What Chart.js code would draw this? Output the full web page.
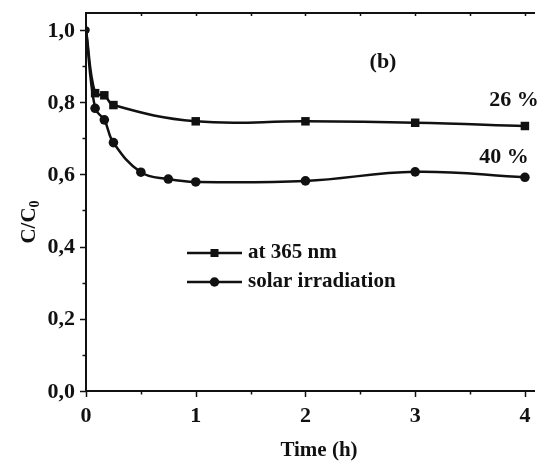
<!DOCTYPE html>
<html>
<head>
<meta charset="utf-8">
<script src="https://cdn.jsdelivr.net/npm/chart.js@4"></script>
<style>
  html, body { margin: 0; padding: 0; background: #fff; }
  #c { display: block; }
</style>
</head>
<body>
<canvas id="c" width="541" height="463"></canvas>
<script>
// ---- data ----
const timeSquares = [0, 0.083, 0.167, 0.25, 1, 2, 3, 4];
const nm365 = [1.0, 0.825, 0.819, 0.792, 0.747, 0.747, 0.743, 0.734];
const timeCircles = [0, 0.083, 0.167, 0.25, 0.5, 0.75, 1, 2, 3, 4];
const solar = [1.0, 0.783, 0.751, 0.688, 0.606, 0.587, 0.579, 0.582, 0.607, 0.592];

const xTickValues = [0, 1, 2, 3, 4];
const xTickLabels = ['0', '1', '2', '3', '4'];
const yTickValues = [0, 0.2, 0.4, 0.6, 0.8, 1.0];
const yTickLabels = ['0,0', '0,2', '0,4', '0,6', '0,8', '1,0'];
const seriesNames = ['at 365 nm', 'solar irradiation'];
const xTitle = 'Time (h)';

const FONT = '"Liberation Serif", "Times New Roman", serif';
const INK = '#111';

const axesPlugin = {
  id: 'axesPlugin',
  afterDraw(chart) {
    const ctx = chart.ctx;
    const xs = chart.scales.x, ys = chart.scales.y;
    const a = chart.chartArea;
    ctx.save();
    ctx.strokeStyle = INK;
    ctx.fillStyle = INK;
    ctx.lineWidth = 2;
    ctx.beginPath();
    ctx.moveTo(a.left, a.top); ctx.lineTo(a.left, a.bottom + 1);
    ctx.moveTo(a.left - 1, a.bottom); ctx.lineTo(a.right, a.bottom);
    ctx.moveTo(a.left - 1, a.top); ctx.lineTo(a.right, a.top);
    ctx.stroke();
    ctx.lineWidth = 1.5;
    for (let i = 0; i <= 10; i++) {
      const v = i / 10;
      const y = Math.round(ys.getPixelForValue(v)) + 0.5;
      const len = (i % 2 === 0) ? 6 : 3.5;
      ctx.beginPath(); ctx.moveTo(a.left - len, y); ctx.lineTo(a.left, y); ctx.stroke();
    }
    for (let i = 0; i <= 8; i++) {
      const v = i / 2;
      const x = Math.round(xs.getPixelForValue(v)) + 0.5;
      const len = (i % 2 === 0) ? 6 : 3.5;
      ctx.beginPath(); ctx.moveTo(x, a.bottom); ctx.lineTo(x, a.bottom + len); ctx.stroke();
      if (i > 0) { ctx.beginPath(); ctx.moveTo(x, a.top); ctx.lineTo(x, a.top + 3); ctx.stroke(); }
    }
    ctx.font = 'bold 22px ' + FONT;
    ctx.textAlign = 'right'; ctx.textBaseline = 'middle';
    yTickValues.forEach((v, i) => ctx.fillText(yTickLabels[i], 75, ys.getPixelForValue(v) + 1));
    ctx.textAlign = 'center';
    xTickValues.forEach((v, i) => ctx.fillText(xTickLabels[i], xs.getPixelForValue(v), 416));
    ctx.font = 'bold 21px ' + FONT;
    ctx.fillText(xTitle, 319, 451);
    ctx.save();
    ctx.translate(35, 222);
    ctx.rotate(-Math.PI / 2);
    ctx.font = 'bold 21px ' + FONT;
    ctx.textAlign = 'left'; ctx.textBaseline = 'alphabetic';
    const main = 'C/C';
    const wMain = ctx.measureText(main).width;
    ctx.font = 'bold 14px ' + FONT;
    const wSub = ctx.measureText('0').width;
    const total = wMain + wSub;
    ctx.font = 'bold 21px ' + FONT;
    ctx.fillText(main, -total / 2, 0);
    ctx.font = 'bold 14px ' + FONT;
    ctx.fillText('0', -total / 2 + wMain, 4);
    ctx.restore();
    ctx.font = 'bold 22px ' + FONT;
    ctx.textAlign = 'center'; ctx.textBaseline = 'middle';
    ctx.fillText('(b)', 383, 62);
    ctx.fillText('26 %', 514, 100);
    ctx.fillText('40 %', 504, 157);
    const rows = [{ y: 253, style: 'rect' }, { y: 282, style: 'circle' }];
    rows.forEach((r, i) => {
      ctx.lineWidth = 2.5;
      ctx.beginPath(); ctx.moveTo(187, r.y); ctx.lineTo(242, r.y); ctx.stroke();
      if (r.style === 'rect') ctx.fillRect(214.5 - 4, r.y - 4, 8, 8);
      else { ctx.beginPath(); ctx.arc(214.5, r.y, 4.7, 0, Math.PI * 2); ctx.fill(); }
      ctx.font = 'bold 21px ' + FONT;
      ctx.textAlign = 'left'; ctx.textBaseline = 'middle';
      ctx.fillText(seriesNames[i], 248, r.y);
    });
    ctx.restore();
  }
};

new Chart(document.getElementById('c'), {
  type: 'line',
  data: {
    datasets: [
      {
        label: seriesNames[0],
        data: timeSquares.map((t, i) => ({ x: t, y: nm365[i] })),
        borderColor: INK, backgroundColor: INK, borderWidth: 2.5,
        pointStyle: timeSquares.map((t, i) => i === 0 ? 'circle' : 'rect'),
        pointRadius: timeSquares.map((t, i) => i === 0 ? 3.5 : 6),
        pointBorderWidth: 0,
        tension: 0.4,
        clip: 0
      },
      {
        label: seriesNames[1],
        data: timeCircles.map((t, i) => ({ x: t, y: solar[i] })),
        borderColor: INK, backgroundColor: INK, borderWidth: 2.5,
        pointStyle: 'circle',
        pointRadius: timeCircles.map((t, i) => i === 0 ? 3.5 : 4.8),
        pointBorderWidth: 0,
        tension: 0.4,
        clip: 0
      }
    ]
  },
  options: {
    responsive: false,
    animation: false,
    devicePixelRatio: 1,
    layout: { padding: { left: 86, top: 13, right: 0, bottom: 72 } },
    scales: {
      x: { type: 'linear', min: 0, max: 4.092, display: false },
      y: { type: 'linear', min: 0, max: 1.047, display: false }
    },
    plugins: { legend: { display: false }, tooltip: { enabled: false } }
  },
  plugins: [axesPlugin]
});
</script>
</body>
</html>
